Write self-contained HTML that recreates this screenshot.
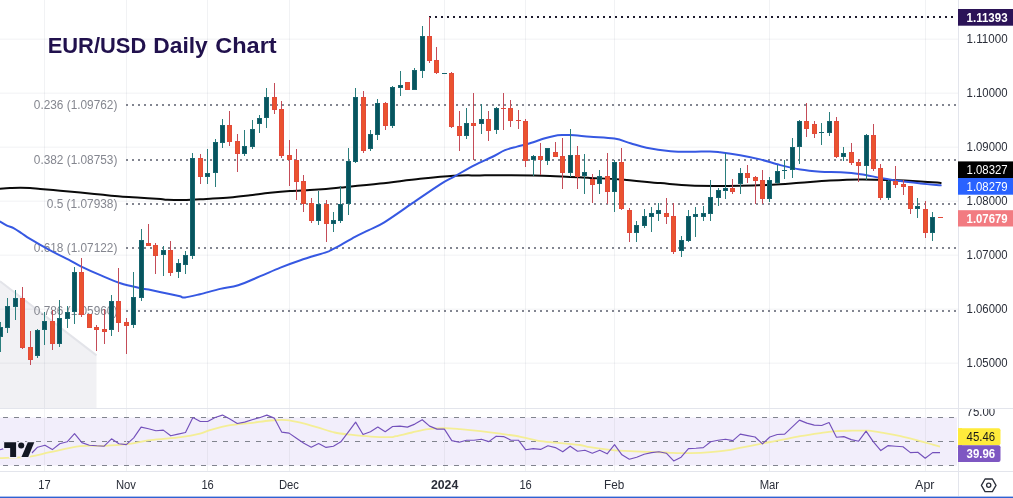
<!DOCTYPE html>
<html lang="en"><head><meta charset="utf-8"><title>EUR/USD Daily Chart</title>
<style>html,body{margin:0;padding:0;background:#fff;overflow:hidden}svg{display:block}</style>
</head><body>
<svg width="1013" height="498" viewBox="0 0 1013 498" font-family='"Liberation Sans", sans-serif'>
<rect width="1013" height="498" fill="#fff"/>
<polygon points="0,280.6 96.5,354.8 96.5,408 0,408" fill="#f1f1f4"/>
<line x1="0" y1="281.2" x2="96.5" y2="355.4" stroke="#e3e4e9" stroke-width="2"/>
<g fill="#78829a" fill-opacity="0.105"><rect x="44" y="0" width="1" height="471"/><rect x="126" y="0" width="1" height="471"/><rect x="207" y="0" width="1" height="471"/><rect x="289" y="0" width="1" height="471"/><rect x="444" y="0" width="1" height="471"/><rect x="525" y="0" width="1" height="471"/><rect x="614" y="0" width="1" height="471"/><rect x="769" y="0" width="1" height="471"/><rect x="925" y="0" width="1" height="471"/><rect x="0" y="38.7" width="958" height="1"/><rect x="0" y="92.7" width="958" height="1"/><rect x="0" y="146.7" width="958" height="1"/><rect x="0" y="200.7" width="958" height="1"/><rect x="0" y="254.7" width="958" height="1"/><rect x="0" y="308.7" width="958" height="1"/><rect x="0" y="362.7" width="958" height="1"/></g>
<rect x="0" y="417.5" width="957" height="48" fill="#f2eefb"/>
<g stroke="#81848e" stroke-width="1" stroke-dasharray="5 6" stroke-dashoffset="-3" shape-rendering="crispEdges"><line x1="0" y1="417.5" x2="955" y2="417.5"/><line x1="0" y1="441.5" x2="955" y2="441.5"/><line x1="0" y1="465.5" x2="955" y2="465.5"/></g>
<g shape-rendering="crispEdges" fill="#e6e3ef"><rect x="44" y="418" width="1" height="47"/><rect x="126" y="418" width="1" height="47"/><rect x="207" y="418" width="1" height="47"/><rect x="289" y="418" width="1" height="47"/><rect x="444" y="418" width="1" height="47"/><rect x="525" y="418" width="1" height="47"/><rect x="614" y="418" width="1" height="47"/><rect x="769" y="418" width="1" height="47"/><rect x="925" y="418" width="1" height="47"/></g>
<g stroke="#828590" stroke-width="2" stroke-dasharray="2 4" shape-rendering="crispEdges"><line x1="126" y1="105" x2="956" y2="105"/><line x1="126" y1="160" x2="956" y2="160"/><line x1="126" y1="204" x2="956" y2="204"/><line x1="126" y1="248" x2="956" y2="248"/><line x1="126" y1="311" x2="956" y2="311"/></g>
<line x1="429" y1="17" x2="956" y2="17" stroke="#1d1b2e" stroke-width="2" stroke-dasharray="2 4" shape-rendering="crispEdges"/>
<g font-size="12" fill="#84868f" text-anchor="end"><text x="117.4" y="108.8" textLength="83.6" lengthAdjust="spacingAndGlyphs">0.236 (1.09762)</text><text x="117.4" y="163.9" textLength="83.6" lengthAdjust="spacingAndGlyphs">0.382 (1.08753)</text><text x="117.4" y="208" textLength="70.6" lengthAdjust="spacingAndGlyphs">0.5 (1.07938)</text><text x="117.4" y="252" textLength="83.6" lengthAdjust="spacingAndGlyphs">0.618 (1.07122)</text><text x="117.4" y="314.8" textLength="83.6" lengthAdjust="spacingAndGlyphs">0.786 (1.05960)</text></g>
<path d="M0 188.7C1.67 188.6 6.67 188.27 10 188.1C13.33 187.93 16.67 187.72 20 187.7C23.33 187.68 26.63 187.8 30 188C33.37 188.2 35.17 188.45 40.2 188.9C45.23 189.35 53.52 190.1 60.2 190.7C66.88 191.3 73.6 191.87 80.3 192.5C87 193.13 93.7 193.83 100.4 194.5C107.1 195.17 113.8 195.97 120.5 196.5C127.2 197.03 133.92 197.27 140.6 197.7C147.28 198.13 156.25 198.77 160.6 199.1C164.95 199.43 163.35 199.53 166.7 199.7C170.05 199.87 175.15 200.17 180.7 200.1C186.25 200.03 195.12 199.52 200 199.3C204.88 199.08 205 199.12 210 198.8C215 198.48 223.33 198 230 197.4C236.67 196.8 243.33 195.97 250 195.2C256.67 194.43 263.33 193.5 270 192.8C276.67 192.1 283.33 191.47 290 191C296.67 190.53 304 190.35 310 190C316 189.65 321 189.3 326 188.9C331 188.5 331 188.48 340 187.6C349 186.72 366.67 185.07 380 183.6C393.33 182.13 407.73 180.12 420 178.8C432.27 177.48 443.6 176.27 453.6 175.7C463.6 175.13 470.6 175.47 480 175.4C489.4 175.33 498.33 175.22 510 175.3C521.67 175.38 536.67 175.47 550 175.9C563.33 176.33 578.33 177.3 590 177.9C601.67 178.5 608.28 178.63 620 179.5C631.72 180.37 648.57 182.1 660.3 183.1C672.03 184.1 680.35 185.03 690.4 185.5C700.45 185.97 712.33 185.85 720.6 185.9C728.87 185.95 731.43 186 740 185.8C748.57 185.6 762 185.22 772 184.7C782 184.18 790.33 183.4 800 182.7C809.67 182 819.93 181.05 830 180.5C840.07 179.95 850.32 179.48 860.4 179.4C870.48 179.32 880.47 179.67 890.5 180C900.53 180.33 912.23 180.92 920.6 181.4C928.97 181.88 937.35 182.65 940.7 182.9" fill="none" stroke="#0a0a0a" stroke-width="2" stroke-linejoin="round" stroke-linecap="round"/>
<path d="M0 221.5C1.17 222.18 4.67 224.47 7 225.6C9.33 226.73 11.5 226.98 14 228.3C16.5 229.62 19.32 231.73 22 233.5C24.68 235.27 25.4 236.08 30.1 238.9C34.8 241.72 43.5 246.78 50.2 250.4C56.9 254.02 65.28 257.98 70.3 260.6C75.32 263.22 75.28 263.67 80.3 266.1C85.32 268.53 93.7 272.35 100.4 275.2C107.1 278.05 113.8 281.03 120.5 283.2C127.2 285.37 135.92 287.13 140.6 288.2C145.28 289.27 143.58 288.58 148.6 289.6C153.62 290.62 165.47 293.18 170.7 294.3C175.93 295.42 177.62 295.77 180 296.3C182.38 296.83 181.67 297.85 185 297.5C188.33 297.15 194.13 295.63 200 294.2C205.87 292.77 213.83 290.38 220.2 288.9C226.57 287.42 231.52 287.42 238.2 285.3C244.88 283.18 253.27 279.15 260.3 276.2C267.33 273.25 273.7 270.27 280.4 267.6C287.1 264.93 292.8 262.78 300.5 260.2C308.2 257.62 321.5 253.8 326.6 252.1C331.7 250.4 328.77 251.17 331.1 250C333.43 248.83 336.62 247.28 340.6 245.1C344.58 242.92 350.3 239.4 355 236.9C359.7 234.4 363.92 232.53 368.8 230.1C373.68 227.67 377.03 226.78 384.3 222.3C391.57 217.82 403.02 209.57 412.4 203.2C421.78 196.83 433.57 188.58 440.6 184.1C447.63 179.62 448.92 179.47 454.6 176.3C460.28 173.13 468.47 168.32 474.7 165.1C480.93 161.88 486.95 159.48 492 157C497.05 154.52 500.83 151.93 505 150.2C509.17 148.47 512.83 147.77 517 146.6C521.17 145.43 525.33 144.6 530 143.2C534.67 141.8 540.97 139.42 545 138.2C549.03 136.98 551.37 136.42 554.2 135.9C557.03 135.38 559.33 135.25 562 135.1C564.67 134.95 565.48 134.73 570.2 135C574.92 135.27 582.93 136.1 590.3 136.7C597.67 137.3 607.7 137.52 614.4 138.6C621.1 139.68 625.15 141.67 630.5 143.2C635.85 144.73 639.82 146.47 646.5 147.8C653.18 149.13 663.23 150.53 670.6 151.2C677.97 151.87 684.13 151.77 690.7 151.8C697.27 151.83 705.12 151.33 710 151.4C714.88 151.47 714.97 151.57 720 152.2C725.03 152.83 733.5 154 740.2 155.2C746.9 156.4 753.52 157.75 760.2 159.4C766.88 161.05 773.6 163.4 780.3 165.1C787 166.8 793.7 168.5 800.4 169.6C807.1 170.7 813.8 171.25 820.5 171.7C827.2 172.15 833.92 171.88 840.6 172.3C847.28 172.72 853.92 173.27 860.6 174.2C867.28 175.13 874.03 176.75 880.7 177.9C887.37 179.05 893.95 180.18 900.6 181.1C907.25 182.02 913.92 182.7 920.6 183.4C927.28 184.1 937.35 184.98 940.7 185.3" fill="none" stroke="#3658e2" stroke-width="2" stroke-linejoin="round" stroke-linecap="round"/>
<g shape-rendering="crispEdges"><rect x="0" y="322" width="1" height="30" fill="#2a7e7d"/><rect x="-2" y="327" width="5" height="10" fill="#17666f"/><rect x="-1" y="328" width="3" height="8" fill="#07545e"/><rect x="7" y="298" width="1" height="35" fill="#2a7e7d"/><rect x="5" y="306" width="5" height="22" fill="#17666f"/><rect x="6" y="307" width="3" height="20" fill="#07545e"/><rect x="15" y="290" width="1" height="30" fill="#2a7e7d"/><rect x="13" y="298" width="5" height="9" fill="#17666f"/><rect x="14" y="299" width="3" height="7" fill="#07545e"/><rect x="22" y="287" width="1" height="62" fill="#c44c58"/><rect x="20" y="298" width="5" height="50" fill="#e34a3a"/><rect x="21" y="299" width="3" height="48" fill="#ea532f"/><rect x="30" y="331" width="1" height="34" fill="#c44c58"/><rect x="28" y="347" width="5" height="13" fill="#e34a3a"/><rect x="29" y="348" width="3" height="11" fill="#ea532f"/><rect x="37" y="329" width="1" height="29" fill="#2a7e7d"/><rect x="35" y="330" width="5" height="26" fill="#17666f"/><rect x="36" y="331" width="3" height="24" fill="#07545e"/><rect x="44" y="312" width="1" height="33" fill="#2a7e7d"/><rect x="42" y="321" width="5" height="9" fill="#17666f"/><rect x="43" y="322" width="3" height="7" fill="#07545e"/><rect x="52" y="310" width="1" height="40" fill="#c44c58"/><rect x="50" y="321" width="5" height="23" fill="#e34a3a"/><rect x="51" y="322" width="3" height="21" fill="#ea532f"/><rect x="59" y="300" width="1" height="47" fill="#2a7e7d"/><rect x="57" y="318" width="5" height="26" fill="#17666f"/><rect x="58" y="319" width="3" height="24" fill="#07545e"/><rect x="67" y="306" width="1" height="22" fill="#2a7e7d"/><rect x="65" y="312" width="5" height="7" fill="#17666f"/><rect x="66" y="313" width="3" height="5" fill="#07545e"/><rect x="74" y="267" width="1" height="57" fill="#2a7e7d"/><rect x="72" y="272" width="5" height="40" fill="#17666f"/><rect x="73" y="273" width="3" height="38" fill="#07545e"/><rect x="81" y="258" width="1" height="59" fill="#c44c58"/><rect x="79" y="272" width="5" height="43" fill="#e34a3a"/><rect x="80" y="273" width="3" height="41" fill="#ea532f"/><rect x="89" y="314" width="1" height="14" fill="#c44c58"/><rect x="87" y="314" width="5" height="14" fill="#e34a3a"/><rect x="88" y="315" width="3" height="12" fill="#ea532f"/><rect x="96" y="325" width="1" height="26" fill="#c44c58"/><rect x="94" y="327" width="5" height="3" fill="#e34a3a"/><rect x="95" y="328" width="3" height="1" fill="#ea532f"/><rect x="104" y="309" width="1" height="35" fill="#c44c58"/><rect x="102" y="329" width="5" height="3" fill="#e34a3a"/><rect x="103" y="330" width="3" height="1" fill="#ea532f"/><rect x="111" y="295" width="1" height="41" fill="#2a7e7d"/><rect x="109" y="301" width="5" height="29" fill="#17666f"/><rect x="110" y="302" width="3" height="27" fill="#07545e"/><rect x="118" y="268" width="1" height="64" fill="#c44c58"/><rect x="116" y="301" width="5" height="22" fill="#e34a3a"/><rect x="117" y="302" width="3" height="20" fill="#ea532f"/><rect x="126" y="318" width="1" height="36" fill="#c44c58"/><rect x="124" y="322" width="5" height="4" fill="#e34a3a"/><rect x="125" y="323" width="3" height="2" fill="#ea532f"/><rect x="133" y="272" width="1" height="56" fill="#2a7e7d"/><rect x="131" y="297" width="5" height="28" fill="#17666f"/><rect x="132" y="298" width="3" height="26" fill="#07545e"/><rect x="141" y="229" width="1" height="72" fill="#2a7e7d"/><rect x="139" y="240" width="5" height="58" fill="#17666f"/><rect x="140" y="241" width="3" height="56" fill="#07545e"/><rect x="148" y="224" width="1" height="22" fill="#c44c58"/><rect x="146" y="243" width="5" height="3" fill="#e34a3a"/><rect x="147" y="244" width="3" height="1" fill="#ea532f"/><rect x="155" y="243" width="1" height="31" fill="#c44c58"/><rect x="153" y="245" width="5" height="11" fill="#e34a3a"/><rect x="154" y="246" width="3" height="9" fill="#ea532f"/><rect x="163" y="246" width="1" height="30" fill="#2a7e7d"/><rect x="161" y="250" width="5" height="5" fill="#17666f"/><rect x="162" y="251" width="3" height="3" fill="#07545e"/><rect x="170" y="241" width="1" height="35" fill="#c44c58"/><rect x="168" y="250" width="5" height="23" fill="#e34a3a"/><rect x="169" y="251" width="3" height="21" fill="#ea532f"/><rect x="178" y="259" width="1" height="19" fill="#2a7e7d"/><rect x="176" y="263" width="5" height="9" fill="#17666f"/><rect x="177" y="264" width="3" height="7" fill="#07545e"/><rect x="185" y="251" width="1" height="23" fill="#2a7e7d"/><rect x="183" y="255" width="5" height="10" fill="#17666f"/><rect x="184" y="256" width="3" height="8" fill="#07545e"/><rect x="192" y="153" width="1" height="106" fill="#2a7e7d"/><rect x="190" y="158" width="5" height="98" fill="#17666f"/><rect x="191" y="159" width="3" height="96" fill="#07545e"/><rect x="200" y="154" width="1" height="30" fill="#c44c58"/><rect x="198" y="158" width="5" height="19" fill="#e34a3a"/><rect x="199" y="159" width="3" height="17" fill="#ea532f"/><rect x="207" y="149" width="1" height="35" fill="#2a7e7d"/><rect x="205" y="173" width="5" height="4" fill="#17666f"/><rect x="206" y="174" width="3" height="2" fill="#07545e"/><rect x="215" y="139" width="1" height="48" fill="#2a7e7d"/><rect x="213" y="142" width="5" height="31" fill="#17666f"/><rect x="214" y="143" width="3" height="29" fill="#07545e"/><rect x="222" y="119" width="1" height="29" fill="#2a7e7d"/><rect x="220" y="125" width="5" height="18" fill="#17666f"/><rect x="221" y="126" width="3" height="16" fill="#07545e"/><rect x="229" y="111" width="1" height="35" fill="#c44c58"/><rect x="227" y="125" width="5" height="17" fill="#e34a3a"/><rect x="228" y="126" width="3" height="15" fill="#ea532f"/><rect x="237" y="134" width="1" height="38" fill="#c44c58"/><rect x="235" y="141" width="5" height="13" fill="#e34a3a"/><rect x="236" y="142" width="3" height="11" fill="#ea532f"/><rect x="244" y="130" width="1" height="26" fill="#2a7e7d"/><rect x="242" y="146" width="5" height="8" fill="#17666f"/><rect x="243" y="147" width="3" height="6" fill="#07545e"/><rect x="252" y="120" width="1" height="29" fill="#2a7e7d"/><rect x="250" y="129" width="5" height="18" fill="#17666f"/><rect x="251" y="130" width="3" height="16" fill="#07545e"/><rect x="259" y="115" width="1" height="18" fill="#2a7e7d"/><rect x="257" y="118" width="5" height="6" fill="#17666f"/><rect x="258" y="119" width="3" height="4" fill="#07545e"/><rect x="266" y="88" width="1" height="40" fill="#2a7e7d"/><rect x="264" y="97" width="5" height="21" fill="#17666f"/><rect x="265" y="98" width="3" height="19" fill="#07545e"/><rect x="274" y="83" width="1" height="31" fill="#c44c58"/><rect x="272" y="97" width="5" height="13" fill="#e34a3a"/><rect x="273" y="98" width="3" height="11" fill="#ea532f"/><rect x="281" y="101" width="1" height="57" fill="#c44c58"/><rect x="279" y="109" width="5" height="47" fill="#e34a3a"/><rect x="280" y="110" width="3" height="45" fill="#ea532f"/><rect x="289" y="140" width="1" height="46" fill="#c44c58"/><rect x="287" y="155" width="5" height="5" fill="#e34a3a"/><rect x="288" y="156" width="3" height="3" fill="#ea532f"/><rect x="296" y="149" width="1" height="51" fill="#c44c58"/><rect x="294" y="160" width="5" height="22" fill="#e34a3a"/><rect x="295" y="161" width="3" height="20" fill="#ea532f"/><rect x="303" y="175" width="1" height="37" fill="#c44c58"/><rect x="301" y="181" width="5" height="23" fill="#e34a3a"/><rect x="302" y="182" width="3" height="21" fill="#ea532f"/><rect x="311" y="198" width="1" height="25" fill="#c44c58"/><rect x="309" y="203" width="5" height="18" fill="#e34a3a"/><rect x="310" y="204" width="3" height="16" fill="#ea532f"/><rect x="318" y="191" width="1" height="34" fill="#2a7e7d"/><rect x="316" y="204" width="5" height="17" fill="#17666f"/><rect x="317" y="205" width="3" height="15" fill="#07545e"/><rect x="326" y="200" width="1" height="42" fill="#c44c58"/><rect x="324" y="204" width="5" height="20" fill="#e34a3a"/><rect x="325" y="205" width="3" height="18" fill="#ea532f"/><rect x="333" y="212" width="1" height="20" fill="#2a7e7d"/><rect x="331" y="220" width="5" height="4" fill="#17666f"/><rect x="332" y="221" width="3" height="2" fill="#07545e"/><rect x="340" y="186" width="1" height="37" fill="#2a7e7d"/><rect x="338" y="204" width="5" height="17" fill="#17666f"/><rect x="339" y="205" width="3" height="15" fill="#07545e"/><rect x="348" y="148" width="1" height="67" fill="#2a7e7d"/><rect x="346" y="161" width="5" height="43" fill="#17666f"/><rect x="347" y="162" width="3" height="41" fill="#07545e"/><rect x="355" y="88" width="1" height="75" fill="#2a7e7d"/><rect x="353" y="97" width="5" height="65" fill="#17666f"/><rect x="354" y="98" width="3" height="63" fill="#07545e"/><rect x="363" y="91" width="1" height="62" fill="#c44c58"/><rect x="361" y="97" width="5" height="54" fill="#e34a3a"/><rect x="362" y="98" width="3" height="52" fill="#ea532f"/><rect x="370" y="130" width="1" height="21" fill="#2a7e7d"/><rect x="368" y="134" width="5" height="15" fill="#17666f"/><rect x="369" y="135" width="3" height="13" fill="#07545e"/><rect x="377" y="99" width="1" height="41" fill="#2a7e7d"/><rect x="375" y="103" width="5" height="32" fill="#17666f"/><rect x="376" y="104" width="3" height="30" fill="#07545e"/><rect x="385" y="102" width="1" height="28" fill="#c44c58"/><rect x="383" y="103" width="5" height="23" fill="#e34a3a"/><rect x="384" y="104" width="3" height="21" fill="#ea532f"/><rect x="392" y="86" width="1" height="42" fill="#2a7e7d"/><rect x="390" y="87" width="5" height="39" fill="#17666f"/><rect x="391" y="88" width="3" height="37" fill="#07545e"/><rect x="400" y="71" width="1" height="25" fill="#2a7e7d"/><rect x="398" y="85" width="5" height="3" fill="#17666f"/><rect x="399" y="86" width="3" height="1" fill="#07545e"/><rect x="407" y="82" width="1" height="8" fill="#c44c58"/><rect x="405" y="82" width="5" height="8" fill="#e34a3a"/><rect x="406" y="83" width="3" height="6" fill="#ea532f"/><rect x="414" y="68" width="1" height="22" fill="#2a7e7d"/><rect x="412" y="70" width="5" height="20" fill="#17666f"/><rect x="413" y="71" width="3" height="18" fill="#07545e"/><rect x="422" y="26" width="1" height="52" fill="#2a7e7d"/><rect x="420" y="36" width="5" height="35" fill="#17666f"/><rect x="421" y="37" width="3" height="33" fill="#07545e"/><rect x="429" y="17" width="1" height="46" fill="#c44c58"/><rect x="427" y="36" width="5" height="25" fill="#e34a3a"/><rect x="428" y="37" width="3" height="23" fill="#ea532f"/><rect x="436" y="47" width="1" height="27" fill="#c44c58"/><rect x="434" y="60" width="5" height="13" fill="#e34a3a"/><rect x="435" y="61" width="3" height="11" fill="#ea532f"/><rect x="444" y="73" width="1" height="1" fill="#2a7e7d"/><rect x="442" y="73" width="5" height="1" fill="#17666f"/><rect x="451" y="72" width="1" height="56" fill="#c44c58"/><rect x="449" y="73" width="5" height="54" fill="#e34a3a"/><rect x="450" y="74" width="3" height="52" fill="#ea532f"/><rect x="459" y="111" width="1" height="40" fill="#c44c58"/><rect x="457" y="126" width="5" height="10" fill="#e34a3a"/><rect x="458" y="127" width="3" height="8" fill="#ea532f"/><rect x="466" y="108" width="1" height="31" fill="#2a7e7d"/><rect x="464" y="123" width="5" height="13" fill="#17666f"/><rect x="465" y="124" width="3" height="11" fill="#07545e"/><rect x="473" y="93" width="1" height="67" fill="#c44c58"/><rect x="471" y="123" width="5" height="3" fill="#e34a3a"/><rect x="472" y="124" width="3" height="1" fill="#ea532f"/><rect x="481" y="104" width="1" height="30" fill="#2a7e7d"/><rect x="479" y="119" width="5" height="5" fill="#17666f"/><rect x="480" y="120" width="3" height="3" fill="#07545e"/><rect x="488" y="111" width="1" height="30" fill="#c44c58"/><rect x="486" y="119" width="5" height="12" fill="#e34a3a"/><rect x="487" y="120" width="3" height="10" fill="#ea532f"/><rect x="496" y="107" width="1" height="27" fill="#2a7e7d"/><rect x="494" y="108" width="5" height="22" fill="#17666f"/><rect x="495" y="109" width="3" height="20" fill="#07545e"/><rect x="503" y="93" width="1" height="37" fill="#c44c58"/><rect x="501" y="108" width="5" height="1" fill="#e34a3a"/><rect x="510" y="100" width="1" height="27" fill="#c44c58"/><rect x="508" y="108" width="5" height="13" fill="#e34a3a"/><rect x="509" y="109" width="3" height="11" fill="#ea532f"/><rect x="518" y="110" width="1" height="19" fill="#c44c58"/><rect x="516" y="120" width="5" height="1" fill="#e34a3a"/><rect x="525" y="119" width="1" height="48" fill="#c44c58"/><rect x="523" y="121" width="5" height="40" fill="#e34a3a"/><rect x="524" y="122" width="3" height="38" fill="#ea532f"/><rect x="533" y="155" width="1" height="21" fill="#2a7e7d"/><rect x="531" y="156" width="5" height="4" fill="#17666f"/><rect x="532" y="157" width="3" height="2" fill="#07545e"/><rect x="540" y="143" width="1" height="32" fill="#c44c58"/><rect x="538" y="156" width="5" height="4" fill="#e34a3a"/><rect x="539" y="157" width="3" height="2" fill="#ea532f"/><rect x="547" y="148" width="1" height="17" fill="#2a7e7d"/><rect x="545" y="148" width="5" height="13" fill="#17666f"/><rect x="546" y="149" width="3" height="11" fill="#07545e"/><rect x="555" y="142" width="1" height="15" fill="#c44c58"/><rect x="553" y="152" width="5" height="5" fill="#e34a3a"/><rect x="554" y="153" width="3" height="3" fill="#ea532f"/><rect x="562" y="138" width="1" height="51" fill="#c44c58"/><rect x="560" y="156" width="5" height="17" fill="#e34a3a"/><rect x="561" y="157" width="3" height="15" fill="#ea532f"/><rect x="570" y="129" width="1" height="48" fill="#2a7e7d"/><rect x="568" y="155" width="5" height="18" fill="#17666f"/><rect x="569" y="156" width="3" height="16" fill="#07545e"/><rect x="577" y="146" width="1" height="43" fill="#c44c58"/><rect x="575" y="155" width="5" height="22" fill="#e34a3a"/><rect x="576" y="156" width="3" height="20" fill="#ea532f"/><rect x="584" y="154" width="1" height="40" fill="#2a7e7d"/><rect x="582" y="172" width="5" height="4" fill="#17666f"/><rect x="583" y="173" width="3" height="2" fill="#07545e"/><rect x="592" y="174" width="1" height="29" fill="#c44c58"/><rect x="590" y="179" width="5" height="6" fill="#e34a3a"/><rect x="591" y="180" width="3" height="4" fill="#ea532f"/><rect x="599" y="170" width="1" height="24" fill="#2a7e7d"/><rect x="597" y="176" width="5" height="8" fill="#17666f"/><rect x="598" y="177" width="3" height="6" fill="#07545e"/><rect x="607" y="153" width="1" height="51" fill="#c44c58"/><rect x="605" y="176" width="5" height="16" fill="#e34a3a"/><rect x="606" y="177" width="3" height="14" fill="#ea532f"/><rect x="614" y="160" width="1" height="52" fill="#2a7e7d"/><rect x="612" y="162" width="5" height="30" fill="#17666f"/><rect x="613" y="163" width="3" height="28" fill="#07545e"/><rect x="621" y="148" width="1" height="62" fill="#c44c58"/><rect x="619" y="162" width="5" height="47" fill="#e34a3a"/><rect x="620" y="163" width="3" height="45" fill="#ea532f"/><rect x="629" y="208" width="1" height="34" fill="#c44c58"/><rect x="627" y="210" width="5" height="23" fill="#e34a3a"/><rect x="628" y="211" width="3" height="21" fill="#ea532f"/><rect x="636" y="221" width="1" height="21" fill="#2a7e7d"/><rect x="634" y="225" width="5" height="8" fill="#17666f"/><rect x="635" y="226" width="3" height="6" fill="#07545e"/><rect x="644" y="209" width="1" height="19" fill="#2a7e7d"/><rect x="642" y="216" width="5" height="10" fill="#17666f"/><rect x="643" y="217" width="3" height="8" fill="#07545e"/><rect x="651" y="207" width="1" height="25" fill="#2a7e7d"/><rect x="649" y="213" width="5" height="4" fill="#17666f"/><rect x="650" y="214" width="3" height="2" fill="#07545e"/><rect x="658" y="203" width="1" height="18" fill="#2a7e7d"/><rect x="656" y="210" width="5" height="4" fill="#17666f"/><rect x="657" y="211" width="3" height="2" fill="#07545e"/><rect x="666" y="198" width="1" height="26" fill="#c44c58"/><rect x="664" y="213" width="5" height="4" fill="#e34a3a"/><rect x="665" y="214" width="3" height="2" fill="#ea532f"/><rect x="673" y="203" width="1" height="51" fill="#c44c58"/><rect x="671" y="216" width="5" height="36" fill="#e34a3a"/><rect x="672" y="217" width="3" height="34" fill="#ea532f"/><rect x="681" y="236" width="1" height="21" fill="#2a7e7d"/><rect x="679" y="240" width="5" height="11" fill="#17666f"/><rect x="680" y="241" width="3" height="9" fill="#07545e"/><rect x="688" y="210" width="1" height="32" fill="#2a7e7d"/><rect x="686" y="216" width="5" height="25" fill="#17666f"/><rect x="687" y="217" width="3" height="23" fill="#07545e"/><rect x="695" y="207" width="1" height="30" fill="#2a7e7d"/><rect x="693" y="214" width="5" height="3" fill="#17666f"/><rect x="694" y="215" width="3" height="1" fill="#07545e"/><rect x="703" y="206" width="1" height="15" fill="#2a7e7d"/><rect x="701" y="213" width="5" height="4" fill="#17666f"/><rect x="702" y="214" width="3" height="2" fill="#07545e"/><rect x="710" y="180" width="1" height="41" fill="#2a7e7d"/><rect x="708" y="197" width="5" height="17" fill="#17666f"/><rect x="709" y="198" width="3" height="15" fill="#07545e"/><rect x="718" y="188" width="1" height="18" fill="#2a7e7d"/><rect x="716" y="190" width="5" height="8" fill="#17666f"/><rect x="717" y="191" width="3" height="6" fill="#07545e"/><rect x="725" y="153" width="1" height="46" fill="#2a7e7d"/><rect x="723" y="188" width="5" height="3" fill="#17666f"/><rect x="724" y="189" width="3" height="1" fill="#07545e"/><rect x="732" y="179" width="1" height="15" fill="#c44c58"/><rect x="730" y="188" width="5" height="4" fill="#e34a3a"/><rect x="731" y="189" width="3" height="2" fill="#ea532f"/><rect x="740" y="168" width="1" height="26" fill="#2a7e7d"/><rect x="738" y="173" width="5" height="11" fill="#17666f"/><rect x="739" y="174" width="3" height="9" fill="#07545e"/><rect x="747" y="165" width="1" height="18" fill="#c44c58"/><rect x="745" y="173" width="5" height="5" fill="#e34a3a"/><rect x="746" y="174" width="3" height="3" fill="#ea532f"/><rect x="755" y="176" width="1" height="28" fill="#c44c58"/><rect x="753" y="177" width="5" height="4" fill="#e34a3a"/><rect x="754" y="178" width="3" height="2" fill="#ea532f"/><rect x="762" y="170" width="1" height="34" fill="#c44c58"/><rect x="760" y="180" width="5" height="19" fill="#e34a3a"/><rect x="761" y="181" width="3" height="17" fill="#ea532f"/><rect x="769" y="177" width="1" height="25" fill="#2a7e7d"/><rect x="767" y="180" width="5" height="19" fill="#17666f"/><rect x="768" y="181" width="3" height="17" fill="#07545e"/><rect x="777" y="165" width="1" height="19" fill="#2a7e7d"/><rect x="775" y="171" width="5" height="12" fill="#17666f"/><rect x="776" y="172" width="3" height="10" fill="#07545e"/><rect x="784" y="160" width="1" height="19" fill="#2a7e7d"/><rect x="782" y="170" width="5" height="1" fill="#17666f"/><rect x="792" y="138" width="1" height="40" fill="#2a7e7d"/><rect x="790" y="147" width="5" height="23" fill="#17666f"/><rect x="791" y="148" width="3" height="21" fill="#07545e"/><rect x="799" y="120" width="1" height="44" fill="#2a7e7d"/><rect x="797" y="121" width="5" height="26" fill="#17666f"/><rect x="798" y="122" width="3" height="24" fill="#07545e"/><rect x="806" y="103" width="1" height="34" fill="#c44c58"/><rect x="804" y="121" width="5" height="8" fill="#e34a3a"/><rect x="805" y="122" width="3" height="6" fill="#ea532f"/><rect x="814" y="121" width="1" height="17" fill="#c44c58"/><rect x="812" y="124" width="5" height="10" fill="#e34a3a"/><rect x="813" y="125" width="3" height="8" fill="#ea532f"/><rect x="821" y="123" width="1" height="22" fill="#2a7e7d"/><rect x="819" y="132" width="5" height="1" fill="#17666f"/><rect x="829" y="112" width="1" height="24" fill="#2a7e7d"/><rect x="827" y="121" width="5" height="12" fill="#17666f"/><rect x="828" y="122" width="3" height="10" fill="#07545e"/><rect x="836" y="117" width="1" height="41" fill="#c44c58"/><rect x="834" y="121" width="5" height="36" fill="#e34a3a"/><rect x="835" y="122" width="3" height="34" fill="#ea532f"/><rect x="843" y="147" width="1" height="14" fill="#2a7e7d"/><rect x="841" y="153" width="5" height="4" fill="#17666f"/><rect x="842" y="154" width="3" height="2" fill="#07545e"/><rect x="851" y="143" width="1" height="22" fill="#c44c58"/><rect x="849" y="152" width="5" height="11" fill="#e34a3a"/><rect x="850" y="153" width="3" height="9" fill="#ea532f"/><rect x="858" y="159" width="1" height="23" fill="#c44c58"/><rect x="856" y="162" width="5" height="4" fill="#e34a3a"/><rect x="857" y="163" width="3" height="2" fill="#ea532f"/><rect x="866" y="134" width="1" height="46" fill="#2a7e7d"/><rect x="864" y="135" width="5" height="31" fill="#17666f"/><rect x="865" y="136" width="3" height="29" fill="#07545e"/><rect x="873" y="124" width="1" height="47" fill="#c44c58"/><rect x="871" y="135" width="5" height="34" fill="#e34a3a"/><rect x="872" y="136" width="3" height="32" fill="#ea532f"/><rect x="880" y="164" width="1" height="36" fill="#c44c58"/><rect x="878" y="168" width="5" height="30" fill="#e34a3a"/><rect x="879" y="169" width="3" height="28" fill="#ea532f"/><rect x="888" y="180" width="1" height="20" fill="#2a7e7d"/><rect x="886" y="181" width="5" height="17" fill="#17666f"/><rect x="887" y="182" width="3" height="15" fill="#07545e"/><rect x="895" y="166" width="1" height="22" fill="#c44c58"/><rect x="893" y="181" width="5" height="4" fill="#e34a3a"/><rect x="894" y="182" width="3" height="2" fill="#ea532f"/><rect x="903" y="180" width="1" height="15" fill="#c44c58"/><rect x="901" y="184" width="5" height="3" fill="#e34a3a"/><rect x="902" y="185" width="3" height="1" fill="#ea532f"/><rect x="910" y="186" width="1" height="28" fill="#c44c58"/><rect x="908" y="186" width="5" height="23" fill="#e34a3a"/><rect x="909" y="187" width="3" height="21" fill="#ea532f"/><rect x="917" y="198" width="1" height="20" fill="#2a7e7d"/><rect x="915" y="206" width="5" height="3" fill="#17666f"/><rect x="916" y="207" width="3" height="1" fill="#07545e"/><rect x="925" y="201" width="1" height="37" fill="#c44c58"/><rect x="923" y="209" width="5" height="24" fill="#e34a3a"/><rect x="924" y="210" width="3" height="22" fill="#ea532f"/><rect x="932" y="212" width="1" height="29" fill="#2a7e7d"/><rect x="930" y="217" width="5" height="16" fill="#17666f"/><rect x="931" y="218" width="3" height="14" fill="#07545e"/><rect x="940" y="217" width="1" height="1" fill="#c44c58"/><rect x="938" y="217" width="5" height="1" fill="#e34a3a"/></g>
<path d="M0 458.2C5 457.93 21.67 457.6 30 456.6C38.33 455.6 41.62 453.93 50 452.2C58.38 450.47 71.23 447.27 80.3 446.2C89.37 445.13 96.7 446.13 104.4 445.8C112.1 445.47 118.8 445.13 126.5 444.2C134.2 443.27 141.57 441.37 150.6 440.2C159.63 439.03 172.47 438.28 180.7 437.2C188.93 436.12 195.12 434.88 200 433.7C204.88 432.52 204.97 431.53 210 430.1C215.03 428.67 223.5 426.27 230.2 425.1C236.9 423.93 243.52 423.87 250.2 423.1C256.88 422.33 264.27 421 270.3 420.5C276.33 420 281.05 419.67 286.4 420.1C291.75 420.53 297.05 421.83 302.4 423.1C307.75 424.37 313.13 426.13 318.5 427.7C323.87 429.27 329.25 431.33 334.6 432.5C339.95 433.67 344.58 434.02 350.6 434.7C356.62 435.38 364.13 436.18 370.7 436.6C377.27 437.02 385.78 437.27 390 437.2C394.22 437.13 392.33 436.98 396 436.2C399.67 435.42 406.63 433.68 412 432.5C417.37 431.32 422.82 429.83 428.2 429.1C433.58 428.37 438.95 428.1 444.3 428.1C449.65 428.1 454.28 428.6 460.3 429.1C466.32 429.6 473.7 430.33 480.4 431.1C487.1 431.87 493.8 432.75 500.5 433.7C507.2 434.65 513.92 435.55 520.6 436.8C527.28 438.05 533.92 440.13 540.6 441.2C547.28 442.27 554.13 442.57 560.7 443.2C567.27 443.83 575.12 444.33 580 445C584.88 445.67 584.97 446.4 590 447.2C595.03 448 603.5 449.13 610.2 449.8C616.9 450.47 623.52 450.87 630.2 451.2C636.88 451.53 643.6 451.53 650.3 451.8C657 452.07 663.7 452.57 670.4 452.8C677.1 453.03 683.8 453.3 690.5 453.2C697.2 453.1 703.92 452.77 710.6 452.2C717.28 451.63 723.92 450.87 730.6 449.8C737.28 448.73 744.13 447.1 750.7 445.8C757.27 444.5 765.08 442.93 770 442C774.92 441.07 775.17 441.17 780.2 440.2C785.23 439.23 793.52 437.38 800.2 436.2C806.88 435.02 814.27 433.95 820.3 433.1C826.33 432.25 831.05 431.5 836.4 431.1C841.75 430.7 847.05 430.77 852.4 430.7C857.75 430.63 863.13 430.3 868.5 430.7C873.87 431.1 879.25 432.18 884.6 433.1C889.95 434.02 895.25 435.02 900.6 436.2C905.95 437.38 911.33 438.8 916.7 440.2C922.07 441.6 928.92 443.53 932.8 444.6C936.68 445.67 938.8 446.27 940 446.6" fill="none" stroke="#f4ee96" stroke-width="1.8" stroke-linejoin="round"/>
<polyline points="0,449.8 3.6,448.6" fill="none" stroke="#7451bb" stroke-width="1.15"/>
<polyline points="31.9,453 37.55,447.2 44.95,445.2 52.35,449.6 59.74,443.8 67.14,441.8 74.54,433.7 81.93,442.6 89.33,445.2 96.73,445.8 104.13,446.2 111.52,438.8 118.92,443.8 126.32,444.6 133.71,437.8 141.11,427.1 148.51,428.7 155.91,430.7 163.3,430.1 170.7,435.8 178.1,434.1 185.5,432.5 192.89,417.5 200.29,421.5 207.69,421.5 215.08,417.5 222.48,415.1 229.88,419.1 237.28,423.5 244.67,422.1 252.07,419.7 259.47,417.7 266.86,415.1 274.26,418.1 281.66,432.1 289.06,433.1 296.45,438.2 303.85,443.2 311.25,447.2 318.64,443.6 326.04,447.4 333.44,446.2 340.84,441.8 348.23,432.1 355.63,422.1 363.03,434.5 370.43,431.7 377.82,427.1 385.22,431.7 392.62,426.5 400.01,426.1 407.41,427.1 414.81,424.1 422.21,419.7 429.6,426.1 437,429.1 444.4,429.1 451.79,440.6 459.19,442.2 466.59,440.2 473.99,440.2 481.38,439.2 488.78,441.6 496.18,436.2 503.57,436.6 510.97,440.2 518.37,440.2 525.77,449.8 533.16,448.6 540.56,449.4 547.96,445.8 555.36,447.6 562.75,451.8 570.15,446.2 577.55,451.2 584.94,450.2 592.34,453.2 599.74,450.2 607.14,453.8 614.53,444.6 621.93,454.8 629.33,459.2 636.72,457.2 644.12,454.2 651.52,452.6 658.92,451.8 666.31,453.2 673.71,460.9 681.11,457.2 688.5,448.6 695.9,448.2 703.3,447.6 710.7,441.8 718.09,440.2 725.49,439.2 732.89,440.6 740.29,434.1 747.68,435.6 755.08,437 762.48,443.8 769.87,437 777.27,434.5 784.67,434.1 792.07,427.1 799.46,420.1 806.86,423.1 814.26,425.1 821.65,425.5 829.05,422.5 836.45,437.2 843.85,436.6 851.24,439.6 858.64,441.2 866.04,431.1 873.43,441.8 880.83,450.6 888.23,445.6 895.63,446.2 903.02,446.8 910.42,452.6 917.82,452.2 925.22,458.2 932.61,452.6 940.01,452.6" fill="none" stroke="#7451bb" stroke-width="1.15" stroke-linejoin="round"/>
<g shape-rendering="crispEdges" fill="#e3e5ec"><rect x="0" y="408" width="1013" height="1"/><rect x="0" y="471" width="1013" height="1"/><rect x="958" y="0" width="1" height="496"/></g>
<g font-size="12" fill="#2a2e39"><text x="966.6" y="42.8" textLength="41" lengthAdjust="spacingAndGlyphs">1.11000</text><text x="966.6" y="96.8" textLength="41" lengthAdjust="spacingAndGlyphs">1.10000</text><text x="966.6" y="150.8" textLength="41" lengthAdjust="spacingAndGlyphs">1.09000</text><text x="966.6" y="204.8" textLength="41" lengthAdjust="spacingAndGlyphs">1.08000</text><text x="966.6" y="258.8" textLength="41" lengthAdjust="spacingAndGlyphs">1.07000</text><text x="966.6" y="312.8" textLength="41" lengthAdjust="spacingAndGlyphs">1.06000</text><text x="966.6" y="366.8" textLength="41" lengthAdjust="spacingAndGlyphs">1.05000</text></g>
<rect x="958" y="9" width="55" height="16.7" fill="#2b1357"/><text x="966.6" y="21.65" font-size="12" fill="#fff" font-weight="bold" textLength="41" lengthAdjust="spacingAndGlyphs">1.11393</text>
<rect x="958" y="161.4" width="55" height="16.6" fill="#000"/><text x="966.6" y="174" font-size="12" fill="#fff" textLength="41" lengthAdjust="spacingAndGlyphs">1.08327</text>
<rect x="958" y="178" width="55" height="16.7" fill="#2962ff"/><text x="966.6" y="190.65" font-size="12" fill="#fff" textLength="41" lengthAdjust="spacingAndGlyphs">1.08279</text>
<rect x="958" y="210.2" width="55" height="16.3" fill="#f27b81"/><text x="966.6" y="222.65" font-size="12" fill="#fff" font-weight="bold" textLength="41" lengthAdjust="spacingAndGlyphs">1.07679</text>
<clipPath id="rc"><rect x="958" y="409" width="60" height="62"/></clipPath>
<g clip-path="url(#rc)"><text x="966.6" y="415.7" font-size="12" fill="#2a2e39" textLength="28.6" lengthAdjust="spacingAndGlyphs">75.00</text></g>
<rect x="958" y="428.2" width="42.5" height="17" fill="#ffeb3b" rx="2"/><text x="966.6" y="441" font-size="12" fill="#1a1a1a" textLength="28.6" lengthAdjust="spacingAndGlyphs">45.46</text>
<rect x="958" y="445.2" width="42.5" height="16.8" fill="#7e57c2" rx="2"/><text x="966.6" y="457.9" font-size="12" fill="#fff" font-weight="bold" textLength="28.6" lengthAdjust="spacingAndGlyphs">39.96</text>
<rect x="958" y="428.2" width="4" height="17" fill="#ffeb3b"/><rect x="958" y="445.2" width="4" height="16.8" fill="#7e57c2"/>
<g font-size="12" fill="#2a2e39" text-anchor="middle"><text x="44.5" y="489.3" textLength="12.4" lengthAdjust="spacingAndGlyphs">17</text><text x="126" y="489.3" textLength="20" lengthAdjust="spacingAndGlyphs">Nov</text><text x="207.6" y="489.3" textLength="12.4" lengthAdjust="spacingAndGlyphs">16</text><text x="289" y="489.3" textLength="20" lengthAdjust="spacingAndGlyphs">Dec</text><text x="444.6" y="489.3" font-weight="bold" textLength="27.4" lengthAdjust="spacingAndGlyphs">2024</text><text x="525.6" y="489.3" textLength="12.4" lengthAdjust="spacingAndGlyphs">16</text><text x="614.2" y="489.3" textLength="20.2" lengthAdjust="spacingAndGlyphs">Feb</text><text x="769.4" y="489.3" textLength="19.5" lengthAdjust="spacingAndGlyphs">Mar</text><text x="924.8" y="489.3" textLength="19.4" lengthAdjust="spacingAndGlyphs">Apr</text></g>
<polygon points="996,485.3 992.35,491.62 985.05,491.62 981.4,485.3 985.05,478.98 992.35,478.98" fill="none" stroke="#2a2e39" stroke-width="1.3" stroke-linejoin="round"/>
<circle cx="988.7" cy="485.3" r="2.1" fill="none" stroke="#2a2e39" stroke-width="1.3"/>
<g font-size="22" font-weight="bold" fill="#21114d"><text x="47.7" y="53.2" textLength="98.5" lengthAdjust="spacingAndGlyphs">EUR/USD</text><text x="153.3" y="53.2" textLength="54.5" lengthAdjust="spacingAndGlyphs">Daily</text><text x="215.2" y="53.2" textLength="61.5" lengthAdjust="spacingAndGlyphs">Chart</text></g>
<g transform="translate(4.2 438.9) scale(0.85 0.82)" fill="#131722" stroke="#f2eefb" stroke-width="3" paint-order="stroke" stroke-linejoin="round"><path d="M14 22H7V11H0V4h14z"/><circle cx="20" cy="8" r="3.6"/><path d="M28.3 22h-8l7.5-18h7.6z"/></g>
<rect x="0" y="496.6" width="1013" height="1.4" fill="#2f62d3"/>
</svg>
</body></html>
